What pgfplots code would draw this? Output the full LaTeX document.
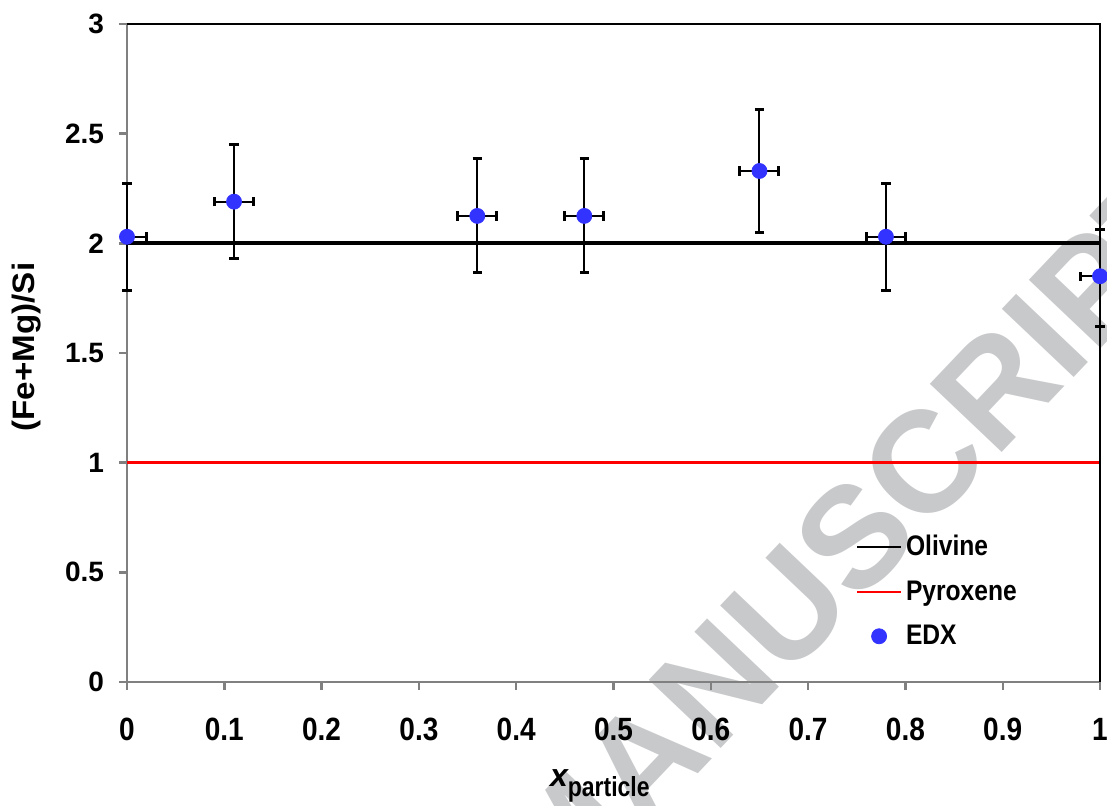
\documentclass[border=0pt]{standalone}
\usepackage{pgfplots}
\pgfplotsset{compat=1.18}
\usepackage{fontspec}
\setmainfont{Liberation Sans}
\definecolor{wm}{RGB}{200,201,203}
\definecolor{edx}{RGB}{51,51,255}
\definecolor{axgray}{RGB}{128,128,128}
\newcommand\xt[1]{\scalebox{1}[1.15]{#1}}
\newcommand\lgt[1]{\scalebox{1}[1.15]{#1}}
\begin{document}
\begin{tikzpicture}
\node[overlay, rotate=46.5, text=wm, font=\fontsize{72}{72}\selectfont\bfseries, inner sep=0pt] at (364pt,73pt) {MANUSCRIPT};
\begin{axis}[
  at={(0,0)}, anchor=origin,
  scale only axis, width=486.5pt, height=329pt,
  xmin=0, xmax=1, ymin=0, ymax=3,
  axis x line*=bottom, axis y line*=left,
  axis line style={axgray, line width=1.2pt, -},
  tick style={axgray, line width=1.2pt},
  tick align=outside, major tick length=4pt,
  xtick={0,0.1,0.2,0.3,0.4,0.5,0.6,0.7,0.8,0.9,1},
  xticklabels={\xt{0},\xt{0.1},\xt{0.2},\xt{0.3},\xt{0.4},\xt{0.5},\xt{0.6},\xt{0.7},\xt{0.8},\xt{0.9},\xt{1}},
  ytick={0,0.5,1,1.5,2,2.5,3},
  yticklabels={0,0.5,1,1.5,2,2.5,3},
  ticklabel style={font=\fontsize{14}{16}\selectfont\bfseries},
  xticklabel style={yshift=-10.5pt},
  yticklabel style={xshift=-4pt},
  /pgf/number format/assume math mode=true,
  clip=false,
  xlabel={\fontsize{16}{18}\selectfont\bfseries\itshape x\raisebox{-5pt}{\fontsize{11.5}{13}\selectfont\upshape\bfseries\scalebox{1}[1.2]{particle}}},
  xlabel style={at={(axis description cs:0.486,-0.158)}, anchor=center},
  ylabel={\scalebox{1.07}[1]{(Fe+Mg)/Si}},
  ylabel style={at={(axis description cs:-0.1028,0.509)}, anchor=center, font=\fontsize{15.5}{17}\selectfont\bfseries},
  legend style={at={(0.749,0.23)}, anchor=north west, draw=none, fill=none,
    font=\fontsize{12.3}{14}\selectfont\bfseries, row sep=7pt, inner sep=0pt,
    nodes={inner xsep=2pt}},
  legend cell align=left,
  legend image code/.code={\draw[mark repeat=2, mark phase=2, #1] plot coordinates {(0cm,0cm) (0.38cm,0cm) (0.76cm,0cm)};},
]
\addplot[black, line width=2pt, legend image post style={line width=1.3pt}] coordinates {(0,2) (1,2)};
\addlegendentry{\lgt{Olivine}}
\addplot[red, line width=1.7pt, legend image post style={line width=1.3pt}] coordinates {(0,1) (1,1)};
\addlegendentry{\lgt{Pyroxene}}
\addplot[only marks, mark=*, mark size=3.75pt, mark options={fill=edx, draw=edx},
  error bars/.cd, x dir=both, x explicit, y dir=both, y explicit,
  error bar style={black, line width=1pt},
  error mark options={rotate=90, black, line width=1.5pt, mark size=2.3pt}]
  coordinates {
  (0,2.03) += (0.02,0.245) -= (0,0.245)
  (0.11,2.19) +- (0.02,0.26)
  (0.36,2.125) +- (0.02,0.26)
  (0.47,2.125) +- (0.02,0.26)
  (0.65,2.33) +- (0.02,0.28)
  (0.78,2.03) +- (0.02,0.245)
  (1,1.85) += (0,0.215) -= (0.02,0.23)
};
\addlegendentry{\lgt{EDX}}
\draw[black, line width=1.2pt] (rel axis cs:0,1) -- (rel axis cs:1,1) -- (rel axis cs:1,0);
\end{axis}
\pgfresetboundingbox
\path[use as bounding box] (-63.5pt,-61.5pt) rectangle (490pt,341pt);
\end{tikzpicture}
\end{document}
